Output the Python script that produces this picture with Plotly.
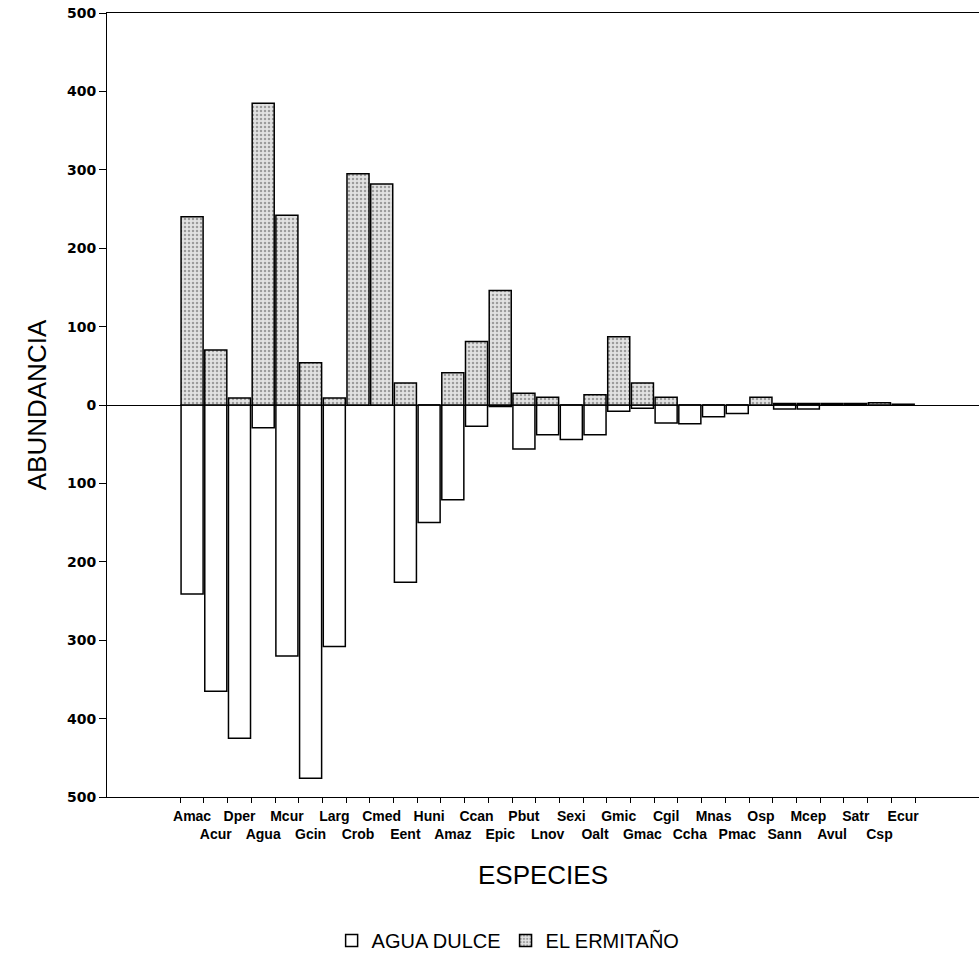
import plotly.graph_objects as go

species = ["Amac", "Acur", "Dper", "Agua", "Mcur", "Gcin", "Larg", "Crob", "Cmed", "Eent",
           "Huni", "Amaz", "Ccan", "Epic", "Pbut", "Lnov", "Sexi", "Oalt", "Gmic", "Gmac",
           "Cgil", "Ccha", "Mnas", "Pmac", "Osp", "Sann", "Mcep", "Avul", "Satr", "Csp", "Ecur"]
el_ermitano = [240, 70, 9, 385, 242, 54, 9, 295, 282, 28,
               0, 41, 81, 146, 15, 10, 0, 13, 87, 28,
               10, 0, 0, 0, 10, 2, 2, 2, 2, 3, 1]
agua_dulce = [241, 365, 425, 29, 320, 476, 308, 0, 0, 226,
              150, 121, 27, 2, 56, 38, 44, 38, 8, 4,
              23, 24, 15, 11, 0, 5, 5, 0, 0, 0, 0]
y_ticks = [-500, -400, -300, -200, -100, 0, 100, 200, 300, 400, 500]

tick_text = [s if i % 2 == 0 else "<br>" + s for i, s in enumerate(species)]

fig = go.Figure()
fig.add_trace(go.Bar(
    x=species, y=[-v for v in agua_dulce], name="AGUA DULCE",
    marker=dict(color="white", line=dict(color="black", width=1.5)),
))
fig.add_trace(go.Bar(
    x=species, y=el_ermitano, name="EL ERMITAÑO",
    marker=dict(color="#e2e2e2", line=dict(color="black", width=1.5),
                pattern=dict(shape=".", fgcolor="#555555", size=4, solidity=0.3)),
))

fig.update_layout(
    width=979, height=965,
    margin=dict(l=107, r=0, t=13, b=168),
    paper_bgcolor="white", plot_bgcolor="white",
    barmode="relative", bargap=0.07,
    font=dict(family="Liberation Sans, Arial, sans-serif", color="black"),
    showlegend=True,
    legend=dict(orientation="h", x=0.46, xanchor="center", y=-0.183, yanchor="middle",
                font=dict(size=20), traceorder="normal"),
)
fig.update_xaxes(
    type="category", categoryorder="array", categoryarray=species,
    range=[-3.59, 33.2],
    tickmode="array", tickvals=species, ticktext=tick_text, tickangle=0,
    tickson="boundaries", ticks="outside", ticklen=5, tickcolor="black",
    tickfont=dict(size=14, family="Liberation Sans, Arial, sans-serif", weight="bold"),
    ticklabelstandoff=6,
    showline=True, linecolor="black", linewidth=1, mirror=True,
    showgrid=False, zeroline=False,
    title=dict(text="ESPECIES", font=dict(size=26), standoff=24),
)
fig.update_yaxes(
    range=[-500, 500], tickmode="array", tickvals=y_ticks,
    ticktext=[str(abs(v)) for v in y_ticks],
    ticks="outside", ticklen=7, tickcolor="black",
    tickfont=dict(size=14, family="DejaVu Sans, sans-serif", weight="bold"),
    showline=True, linecolor="black", linewidth=1,
    showgrid=False, zeroline=True, zerolinecolor="black", zerolinewidth=1,
    title=dict(text="ABUNDANCIA", font=dict(size=26), standoff=12),
)

fig.write_html("out.html")
